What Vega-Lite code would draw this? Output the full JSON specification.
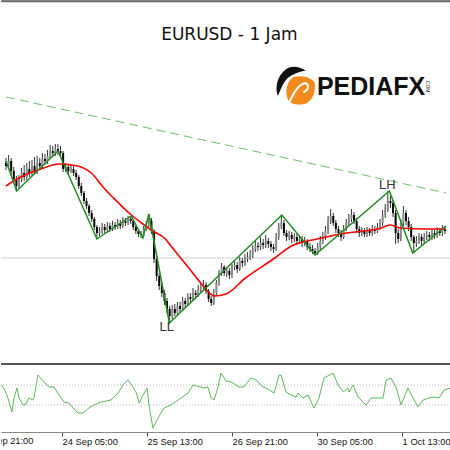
{
"$schema":"https://vega.github.io/schema/vega-lite/v6.json",
"padding":0,
"background":"white",
"spacing":0,
"config":{"view":{"stroke":null}},
"datasets":{
"candles":[
{"t":0,"o":1.1238,"h":1.1243,"l":1.1231,"c":1.1235},
{"t":1,"o":1.1235,"h":1.1246,"l":1.1232,"c":1.1240},
{"t":2,"o":1.1240,"h":1.1243,"l":1.1226,"c":1.1230},
{"t":3,"o":1.1230,"h":1.1234,"l":1.1219,"c":1.1222},
{"t":4,"o":1.1222,"h":1.1225,"l":1.1210,"c":1.1215},
{"t":5,"o":1.1215,"h":1.1226,"l":1.1213,"c":1.1222},
{"t":6,"o":1.1222,"h":1.1233,"l":1.1219,"c":1.1228},
{"t":7,"o":1.1228,"h":1.1236,"l":1.1220,"c":1.1224},
{"t":8,"o":1.1224,"h":1.1238,"l":1.1221,"c":1.1232},
{"t":9,"o":1.1232,"h":1.1240,"l":1.1224,"c":1.1228},
{"t":10,"o":1.1228,"h":1.1241,"l":1.1225,"c":1.1235},
{"t":11,"o":1.1235,"h":1.1244,"l":1.1226,"c":1.1230},
{"t":12,"o":1.1230,"h":1.1245,"l":1.1227,"c":1.1238},
{"t":13,"o":1.1238,"h":1.1243,"l":1.1231,"c":1.1235},
{"t":14,"o":1.1235,"h":1.1248,"l":1.1232,"c":1.1242},
{"t":15,"o":1.1242,"h":1.1247,"l":1.1236,"c":1.1240},
{"t":16,"o":1.1240,"h":1.1251,"l":1.1237,"c":1.1245},
{"t":17,"o":1.1245,"h":1.1256,"l":1.1242,"c":1.1250},
{"t":18,"o":1.1250,"h":1.1255,"l":1.1244,"c":1.1248},
{"t":19,"o":1.1248,"h":1.1257,"l":1.1245,"c":1.1252},
{"t":20,"o":1.1252,"h":1.1257,"l":1.1246,"c":1.1250},
{"t":21,"o":1.1250,"h":1.1255,"l":1.1244,"c":1.1248},
{"t":22,"o":1.1248,"h":1.1250,"l":1.1229,"c":1.1232},
{"t":23,"o":1.1232,"h":1.1238,"l":1.1229,"c":1.1234},
{"t":24,"o":1.1234,"h":1.1237,"l":1.1227,"c":1.1230},
{"t":25,"o":1.1230,"h":1.1236,"l":1.1228,"c":1.1232},
{"t":26,"o":1.1232,"h":1.1235,"l":1.1225,"c":1.1228},
{"t":27,"o":1.1228,"h":1.1231,"l":1.1221,"c":1.1224},
{"t":28,"o":1.1224,"h":1.1226,"l":1.1212,"c":1.1215},
{"t":29,"o":1.1215,"h":1.1218,"l":1.1205,"c":1.1208},
{"t":30,"o":1.1208,"h":1.1210,"l":1.1197,"c":1.1200},
{"t":31,"o":1.1200,"h":1.1203,"l":1.1192,"c":1.1195},
{"t":32,"o":1.1195,"h":1.1197,"l":1.1185,"c":1.1188},
{"t":33,"o":1.1188,"h":1.1191,"l":1.1179,"c":1.1182},
{"t":34,"o":1.1182,"h":1.1184,"l":1.1171,"c":1.1174},
{"t":35,"o":1.1174,"h":1.1176,"l":1.1162,"c":1.1168},
{"t":36,"o":1.1168,"h":1.1174,"l":1.1165,"c":1.1170},
{"t":37,"o":1.1170,"h":1.1178,"l":1.1167,"c":1.1174},
{"t":38,"o":1.1174,"h":1.1177,"l":1.1168,"c":1.1171},
{"t":39,"o":1.1171,"h":1.1179,"l":1.1168,"c":1.1175},
{"t":40,"o":1.1175,"h":1.1178,"l":1.1169,"c":1.1172},
{"t":41,"o":1.1172,"h":1.1180,"l":1.1170,"c":1.1176},
{"t":42,"o":1.1176,"h":1.1179,"l":1.1171,"c":1.1174},
{"t":43,"o":1.1174,"h":1.1182,"l":1.1172,"c":1.1178},
{"t":44,"o":1.1178,"h":1.1181,"l":1.1172,"c":1.1175},
{"t":45,"o":1.1175,"h":1.1184,"l":1.1173,"c":1.1180},
{"t":46,"o":1.1180,"h":1.1183,"l":1.1175,"c":1.1178},
{"t":47,"o":1.1178,"h":1.1185,"l":1.1176,"c":1.1182},
{"t":48,"o":1.1182,"h":1.1185,"l":1.1177,"c":1.1180},
{"t":49,"o":1.1180,"h":1.1182,"l":1.1171,"c":1.1174},
{"t":50,"o":1.1174,"h":1.1176,"l":1.1167,"c":1.1170},
{"t":51,"o":1.1170,"h":1.1172,"l":1.1164,"c":1.1167},
{"t":52,"o":1.1167,"h":1.1170,"l":1.1163,"c":1.1166},
{"t":53,"o":1.1166,"h":1.1175,"l":1.1164,"c":1.1172},
{"t":54,"o":1.1172,"h":1.1180,"l":1.1170,"c":1.1176},
{"t":55,"o":1.1176,"h":1.1187,"l":1.1174,"c":1.1180},
{"t":56,"o":1.1180,"h":1.1183,"l":1.1167,"c":1.1170},
{"t":57,"o":1.1170,"h":1.1172,"l":1.1138,"c":1.1142},
{"t":58,"o":1.1142,"h":1.1145,"l":1.1120,"c":1.1125},
{"t":59,"o":1.1125,"h":1.1128,"l":1.1111,"c":1.1115},
{"t":60,"o":1.1115,"h":1.1118,"l":1.1104,"c":1.1108},
{"t":61,"o":1.1108,"h":1.1111,"l":1.1096,"c":1.1100},
{"t":62,"o":1.1100,"h":1.1103,"l":1.1088,"c":1.1092},
{"t":63,"o":1.1092,"h":1.1095,"l":1.1078,"c":1.1085},
{"t":64,"o":1.1085,"h":1.1096,"l":1.1082,"c":1.1092},
{"t":65,"o":1.1092,"h":1.1097,"l":1.1085,"c":1.1088},
{"t":66,"o":1.1088,"h":1.1099,"l":1.1086,"c":1.1095},
{"t":67,"o":1.1095,"h":1.1099,"l":1.1089,"c":1.1092},
{"t":68,"o":1.1092,"h":1.1104,"l":1.1090,"c":1.1100},
{"t":69,"o":1.1100,"h":1.1103,"l":1.1093,"c":1.1097},
{"t":70,"o":1.1097,"h":1.1108,"l":1.1095,"c":1.1104},
{"t":71,"o":1.1104,"h":1.1108,"l":1.1099,"c":1.1102},
{"t":72,"o":1.1102,"h":1.1113,"l":1.1100,"c":1.1108},
{"t":73,"o":1.1108,"h":1.1111,"l":1.1102,"c":1.1106},
{"t":74,"o":1.1106,"h":1.1116,"l":1.1104,"c":1.1112},
{"t":75,"o":1.1112,"h":1.1118,"l":1.1109,"c":1.1114},
{"t":76,"o":1.1114,"h":1.1121,"l":1.1111,"c":1.1116},
{"t":77,"o":1.1116,"h":1.1119,"l":1.1107,"c":1.1110},
{"t":78,"o":1.1110,"h":1.1112,"l":1.1099,"c":1.1102},
{"t":79,"o":1.1102,"h":1.1105,"l":1.1095,"c":1.1098},
{"t":80,"o":1.1098,"h":1.1112,"l":1.1096,"c":1.1108},
{"t":81,"o":1.1108,"h":1.1121,"l":1.1105,"c":1.1118},
{"t":82,"o":1.1118,"h":1.1131,"l":1.1115,"c":1.1128},
{"t":83,"o":1.1128,"h":1.1138,"l":1.1125,"c":1.1134},
{"t":84,"o":1.1134,"h":1.1136,"l":1.1125,"c":1.1128},
{"t":85,"o":1.1128,"h":1.1134,"l":1.1124,"c":1.1130},
{"t":86,"o":1.1130,"h":1.1133,"l":1.1122,"c":1.1126},
{"t":87,"o":1.1126,"h":1.1137,"l":1.1123,"c":1.1134},
{"t":88,"o":1.1134,"h":1.1140,"l":1.1131,"c":1.1136},
{"t":89,"o":1.1136,"h":1.1139,"l":1.1128,"c":1.1132},
{"t":90,"o":1.1132,"h":1.1144,"l":1.1130,"c":1.1140},
{"t":91,"o":1.1140,"h":1.1143,"l":1.1134,"c":1.1138},
{"t":92,"o":1.1138,"h":1.1147,"l":1.1135,"c":1.1142},
{"t":93,"o":1.1142,"h":1.1149,"l":1.1139,"c":1.1144},
{"t":94,"o":1.1144,"h":1.1151,"l":1.1141,"c":1.1146},
{"t":95,"o":1.1146,"h":1.1156,"l":1.1143,"c":1.1152},
{"t":96,"o":1.1152,"h":1.1160,"l":1.1149,"c":1.1155},
{"t":97,"o":1.1155,"h":1.1159,"l":1.1150,"c":1.1154},
{"t":98,"o":1.1154,"h":1.1164,"l":1.1151,"c":1.1158},
{"t":99,"o":1.1158,"h":1.1162,"l":1.1152,"c":1.1156},
{"t":100,"o":1.1156,"h":1.1166,"l":1.1153,"c":1.1160},
{"t":101,"o":1.1160,"h":1.1163,"l":1.1153,"c":1.1157},
{"t":102,"o":1.1157,"h":1.1160,"l":1.1150,"c":1.1154},
{"t":103,"o":1.1154,"h":1.1157,"l":1.1148,"c":1.1152},
{"t":104,"o":1.1152,"h":1.1168,"l":1.1150,"c":1.1164},
{"t":105,"o":1.1164,"h":1.1178,"l":1.1161,"c":1.1174},
{"t":106,"o":1.1174,"h":1.1186,"l":1.1172,"c":1.1178},
{"t":107,"o":1.1178,"h":1.1181,"l":1.1165,"c":1.1168},
{"t":108,"o":1.1168,"h":1.1171,"l":1.1160,"c":1.1164},
{"t":109,"o":1.1164,"h":1.1170,"l":1.1161,"c":1.1166},
{"t":110,"o":1.1166,"h":1.1169,"l":1.1158,"c":1.1162},
{"t":111,"o":1.1162,"h":1.1168,"l":1.1159,"c":1.1164},
{"t":112,"o":1.1164,"h":1.1167,"l":1.1156,"c":1.1160},
{"t":113,"o":1.1160,"h":1.1166,"l":1.1157,"c":1.1162},
{"t":114,"o":1.1162,"h":1.1165,"l":1.1154,"c":1.1158},
{"t":115,"o":1.1158,"h":1.1164,"l":1.1155,"c":1.1160},
{"t":116,"o":1.1160,"h":1.1162,"l":1.1151,"c":1.1154},
{"t":117,"o":1.1154,"h":1.1158,"l":1.1149,"c":1.1152},
{"t":118,"o":1.1152,"h":1.1156,"l":1.1147,"c":1.1150},
{"t":119,"o":1.1150,"h":1.1153,"l":1.1146,"c":1.1148},
{"t":120,"o":1.1148,"h":1.1158,"l":1.1146,"c":1.1154},
{"t":121,"o":1.1154,"h":1.1165,"l":1.1151,"c":1.1160},
{"t":122,"o":1.1160,"h":1.1169,"l":1.1157,"c":1.1164},
{"t":123,"o":1.1164,"h":1.1175,"l":1.1161,"c":1.1170},
{"t":124,"o":1.1170,"h":1.1185,"l":1.1167,"c":1.1180},
{"t":125,"o":1.1180,"h":1.1192,"l":1.1177,"c":1.1185},
{"t":126,"o":1.1185,"h":1.1188,"l":1.1175,"c":1.1178},
{"t":127,"o":1.1178,"h":1.1181,"l":1.1168,"c":1.1172},
{"t":128,"o":1.1172,"h":1.1175,"l":1.1164,"c":1.1168},
{"t":129,"o":1.1168,"h":1.1171,"l":1.1160,"c":1.1164},
{"t":130,"o":1.1164,"h":1.1176,"l":1.1162,"c":1.1172},
{"t":131,"o":1.1172,"h":1.1182,"l":1.1170,"c":1.1178},
{"t":132,"o":1.1178,"h":1.1187,"l":1.1175,"c":1.1182},
{"t":133,"o":1.1182,"h":1.1192,"l":1.1179,"c":1.1186},
{"t":134,"o":1.1186,"h":1.1189,"l":1.1177,"c":1.1180},
{"t":135,"o":1.1180,"h":1.1183,"l":1.1168,"c":1.1172},
{"t":136,"o":1.1172,"h":1.1175,"l":1.1164,"c":1.1168},
{"t":137,"o":1.1168,"h":1.1174,"l":1.1165,"c":1.1170},
{"t":138,"o":1.1170,"h":1.1173,"l":1.1164,"c":1.1167},
{"t":139,"o":1.1167,"h":1.1174,"l":1.1164,"c":1.1170},
{"t":140,"o":1.1170,"h":1.1173,"l":1.1165,"c":1.1168},
{"t":141,"o":1.1168,"h":1.1176,"l":1.1165,"c":1.1172},
{"t":142,"o":1.1172,"h":1.1175,"l":1.1167,"c":1.1170},
{"t":143,"o":1.1170,"h":1.1178,"l":1.1168,"c":1.1174},
{"t":144,"o":1.1174,"h":1.1182,"l":1.1171,"c":1.1178},
{"t":145,"o":1.1178,"h":1.1191,"l":1.1175,"c":1.1186},
{"t":146,"o":1.1186,"h":1.1197,"l":1.1183,"c":1.1192},
{"t":147,"o":1.1192,"h":1.1210,"l":1.1189,"c":1.1200},
{"t":148,"o":1.1200,"h":1.1205,"l":1.1193,"c":1.1198},
{"t":149,"o":1.1198,"h":1.1201,"l":1.1184,"c":1.1188},
{"t":150,"o":1.1188,"h":1.1191,"l":1.1157,"c":1.1168},
{"t":151,"o":1.1168,"h":1.1172,"l":1.1158,"c":1.1162},
{"t":152,"o":1.1162,"h":1.1182,"l":1.1160,"c":1.1178},
{"t":153,"o":1.1178,"h":1.1195,"l":1.1175,"c":1.1188},
{"t":154,"o":1.1188,"h":1.1191,"l":1.1176,"c":1.1180},
{"t":155,"o":1.1180,"h":1.1184,"l":1.1170,"c":1.1174},
{"t":156,"o":1.1174,"h":1.1177,"l":1.1160,"c":1.1164},
{"t":157,"o":1.1164,"h":1.1166,"l":1.1148,"c":1.1158},
{"t":158,"o":1.1158,"h":1.1165,"l":1.1154,"c":1.1160},
{"t":159,"o":1.1160,"h":1.1168,"l":1.1157,"c":1.1164},
{"t":160,"o":1.1164,"h":1.1167,"l":1.1156,"c":1.1160},
{"t":161,"o":1.1160,"h":1.1168,"l":1.1157,"c":1.1164},
{"t":162,"o":1.1164,"h":1.1170,"l":1.1161,"c":1.1166},
{"t":163,"o":1.1166,"h":1.1169,"l":1.1160,"c":1.1164},
{"t":164,"o":1.1164,"h":1.1172,"l":1.1161,"c":1.1168},
{"t":165,"o":1.1168,"h":1.1171,"l":1.1162,"c":1.1166},
{"t":166,"o":1.1166,"h":1.1174,"l":1.1163,"c":1.1170},
{"t":167,"o":1.1170,"h":1.1173,"l":1.1165,"c":1.1168},
{"t":168,"o":1.1168,"h":1.1176,"l":1.1165,"c":1.1172},
{"t":169,"o":1.1172,"h":1.1175,"l":1.1167,"c":1.1170}
],
"ma":[
{"t":0,"p":1.1215},{"t":4.9,"p":1.1223},{"t":12.4,"p":1.1231},{"t":20.7,"p":1.1237},{"t":27.5,"p":1.1235},{"t":32.8,"p":1.1228},{"t":37.7,"p":1.1213},{"t":41.4,"p":1.1203},{"t":47.8,"p":1.1187},{"t":52.7,"p":1.1177},{"t":56.5,"p":1.1170},{"t":61.4,"p":1.1162},{"t":62.9,"p":1.1157},{"t":70.4,"p":1.1133},{"t":75.3,"p":1.1117},{"t":80.2,"p":1.1105},{"t":84.7,"p":1.1107},{"t":92.2,"p":1.1123},{"t":103.5,"p":1.1143},{"t":109.9,"p":1.1155},{"t":119.7,"p":1.1162},{"t":128.8,"p":1.1167},{"t":137.4,"p":1.1170},{"t":143.1,"p":1.1172},{"t":148.0,"p":1.1176},{"t":151.7,"p":1.1173},{"t":161.9,"p":1.1172},{"t":169.4,"p":1.1172}
],
"zz":[
{"t":0,"p":1.1240},{"t":4.1,"p":1.1210},{"t":20,"p":1.1250},{"t":35,"p":1.1162},{"t":48.2,"p":1.1185},{"t":52.7,"p":1.1163},{"t":55,"p":1.1187},{"t":62.9,"p":1.1078},{"t":106.2,"p":1.1186},{"t":119,"p":1.1146},{"t":147.6,"p":1.1210},{"t":156.6,"p":1.1148},{"t":169.4,"p":1.1175}
],
"trend":[{"t":0,"p":1.1304},{"t":169.4,"p":1.1208}],
"levels":[{"lv":70},{"lv":30}],
"osc":[
{"t":0,"v":70},{"t":1.1,"v":64},{"t":2.6,"v":44},{"t":4.1,"v":16},{"t":4.9,"v":44},{"t":6.0,"v":64},{"t":6.8,"v":44},{"t":8.3,"v":30},{"t":9.4,"v":32},{"t":10.5,"v":44},{"t":12.0,"v":40},{"t":12.4,"v":44},{"t":13.9,"v":90},{"t":16.2,"v":76},{"t":18.1,"v":66},{"t":20.0,"v":66},{"t":21.8,"v":50},{"t":23.7,"v":36},{"t":25.6,"v":34},{"t":27.1,"v":24},{"t":29.0,"v":14},{"t":30.9,"v":14},{"t":33.1,"v":24},{"t":35.0,"v":30},{"t":37.7,"v":36},{"t":41.4,"v":40},{"t":44.1,"v":54},{"t":45.9,"v":70},{"t":47.8,"v":80},{"t":49.7,"v":66},{"t":50.8,"v":56},{"t":52.0,"v":34},{"t":53.5,"v":50},{"t":55.0,"v":64},{"t":55.7,"v":30},{"t":57.2,"v":-16},{"t":59.1,"v":4},{"t":61.4,"v":24},{"t":64.0,"v":30},{"t":67.8,"v":44},{"t":70.4,"v":54},{"t":72.3,"v":70},{"t":75.3,"v":66},{"t":76.4,"v":64},{"t":77.9,"v":66},{"t":79.1,"v":44},{"t":80.2,"v":40},{"t":81.7,"v":66},{"t":82.8,"v":94},{"t":84.7,"v":78},{"t":86.6,"v":76},{"t":89.6,"v":66},{"t":91.5,"v":66},{"t":94.1,"v":84},{"t":96.0,"v":80},{"t":98.6,"v":66},{"t":99.8,"v":64},{"t":102.8,"v":54},{"t":104.7,"v":90},{"t":105.4,"v":90},{"t":107.3,"v":56},{"t":109.2,"v":50},{"t":111.1,"v":46},{"t":111.8,"v":54},{"t":113.7,"v":44},{"t":115.6,"v":50},{"t":117.8,"v":24},{"t":119.7,"v":44},{"t":121.6,"v":84},{"t":125.0,"v":94},{"t":126.9,"v":70},{"t":128.8,"v":56},{"t":130.6,"v":64},{"t":131.0,"v":56},{"t":132.5,"v":70},{"t":134.4,"v":46},{"t":136.3,"v":36},{"t":137.4,"v":30},{"t":139.3,"v":44},{"t":141.2,"v":44},{"t":143.8,"v":44},{"t":145.0,"v":80},{"t":146.8,"v":84},{"t":148.7,"v":66},{"t":150.6,"v":30},{"t":153.2,"v":64},{"t":155.1,"v":44},{"t":157.0,"v":26},{"t":158.9,"v":40},{"t":161.1,"v":44},{"t":163.0,"v":46},{"t":164.9,"v":44},{"t":166.8,"v":60},{"t":169.4,"v":64}
]
},
"vconcat":[
{
"width":450,"height":363,
"encoding":{
 "x":{"field":"t","type":"quantitative","scale":{"domain":[0,169.4],"nice":false,"zero":false},
   "axis":{"orient":"top","labels":false,"ticks":false,"grid":false,"title":null,"domainColor":"#666666","domainWidth":1.5}}
},
"layer":[
{"data":{"values":[{}]},"mark":{"type":"rule","color":"#d0d0d0","strokeWidth":1},
 "encoding":{"x":null,"y":{"datum":1.1143,"type":"quantitative","scale":{"domain":[1.1037,1.14],"nice":false,"zero":false},"axis":null}}},
{"data":{"values":[{}]},"mark":{"type":"rule","color":"#666666","strokeWidth":1.5},
 "encoding":{"x":null,"y":{"datum":1.14,"type":"quantitative","scale":{"domain":[1.1037,1.14],"nice":false,"zero":false},"axis":null}}},
{"data":{"name":"trend"},"mark":{"type":"line","color":"#6cbf6c","strokeWidth":1,"strokeDash":[9,5],"clip":true},
 "encoding":{"y":{"field":"p","type":"quantitative","scale":{"domain":[1.1037,1.14],"nice":false,"zero":false},"axis":null}}},
{"data":{"name":"candles"},"mark":{"type":"rule","color":"#333333","strokeWidth":1,"clip":true},
 "encoding":{"y":{"field":"l","type":"quantitative","scale":{"domain":[1.1037,1.14],"nice":false,"zero":false},"axis":null},
 "y2":{"field":"h"}}},
{"data":{"name":"candles"},"mark":{"type":"bar","width":2,"clip":true},
 "encoding":{"y":{"field":"o","type":"quantitative","scale":{"domain":[1.1037,1.14],"nice":false,"zero":false},"axis":null},
 "y2":{"field":"c"},
 "color":{"condition":{"test":"datum.c < datum.o","value":"#000000"},"value":"#8a8a8a"}}},
{"data":{"name":"ma"},"mark":{"type":"line","color":"#ff0000","strokeWidth":1.6,"interpolate":"monotone","clip":true},
 "encoding":{"y":{"field":"p","type":"quantitative","scale":{"domain":[1.1037,1.14],"nice":false,"zero":false},"axis":null}}},
{"data":{"name":"zz"},"mark":{"type":"line","color":"#1f8b1f","strokeWidth":1.5,"clip":true},
 "encoding":{"y":{"field":"p","type":"quantitative","scale":{"domain":[1.1037,1.14],"nice":false,"zero":false},"axis":null}}},
{"data":{"values":[{"lab":"LH","t":146.8,"p":1.1216},{"lab":"LL","t":61.9,"p":1.1074}]},"mark":{"type":"text","font":"Liberation Sans","fontSize":13,"color":"#333333","align":"center","baseline":"middle"},
 "encoding":{"text":{"field":"lab"},
 "y":{"field":"p","type":"quantitative","scale":{"domain":[1.1037,1.14],"nice":false,"zero":false},"axis":null}}},
{"data":{"values":[{"lab":"EURUSD - 1 Jam","t":86.0,"p":1.1361}]},"mark":{"type":"text","font":"Comic Sans MS, DejaVu Sans","fontSize":17,"color":"#111111","align":"center","baseline":"alphabetic"},
 "encoding":{"text":{"field":"lab"},
 "y":{"field":"p","type":"quantitative","scale":{"domain":[1.1037,1.14],"nice":false,"zero":false},"axis":null}}},
{"data":{"values":[{"t":113.3,"p":1.1311}]},"mark":{"type":"point","filled":true,"opacity":1,"color":"#f28a1e","size":900,
  "shape":"M-0.5,-0.85 C0,-1 0.7,-0.9 0.95,-0.5 C1.05,0 0.9,0.6 0.4,0.9 C-0.1,1.05 -0.6,1 -0.85,0.6 C-1,0.2 -0.95,-0.5 -0.5,-0.85Z"},
 "encoding":{"y":{"field":"p","type":"quantitative","scale":{"domain":[1.1037,1.14],"nice":false,"zero":false},"axis":null}}},
{"data":{"values":[{"t":113.3,"p":1.1311}]},"mark":{"type":"point","filled":false,"opacity":1,"stroke":"#ffffff","strokeWidth":2,"size":900,
  "shape":"M-0.7,0.75 C-0.4,0.1 -0.1,-0.4 0.3,-0.45 C0.6,-0.45 0.6,0 0.2,0.15"},
 "encoding":{"y":{"field":"p","type":"quantitative","scale":{"domain":[1.1037,1.14],"nice":false,"zero":false},"axis":null}}},
{"data":{"values":[{"t":109.6,"p":1.1320}]},"mark":{"type":"point","filled":true,"opacity":1,"color":"#111111","size":900,
  "shape":"M-0.85,1 C-1.05,0.5 -0.95,-0.3 -0.3,-0.8 C0.1,-1.05 0.6,-0.95 1,-0.7 C0.5,-0.6 0.1,-0.45 -0.2,-0.2 C-0.5,0.1 -0.65,0.5 -0.85,1Z"},
 "encoding":{"y":{"field":"p","type":"quantitative","scale":{"domain":[1.1037,1.14],"nice":false,"zero":false},"axis":null}}},
{"data":{"values":[{"lab":"PEDIAFX","t":119.7,"p":1.1306}]},"mark":{"type":"text","font":"Liberation Sans","fontWeight":"bold","fontSize":25,"color":"#111111","align":"left","baseline":"alphabetic"},
 "encoding":{"text":{"field":"lab"},
 "y":{"field":"p","type":"quantitative","scale":{"domain":[1.1037,1.14],"nice":false,"zero":false},"axis":null}}},
{"data":{"values":[{"lab":".COM","t":162.3,"p":1.1315}]},"mark":{"type":"text","font":"Liberation Sans","fontSize":5,"angle":90,"color":"#111111","align":"center","baseline":"middle"},
 "encoding":{"text":{"field":"lab"},
 "y":{"field":"p","type":"quantitative","scale":{"domain":[1.1037,1.14],"nice":false,"zero":false},"axis":null}}},
{"data":{"values":[{}]},"mark":{"type":"rule","color":"#555555","strokeWidth":2},
 "encoding":{"x":null,"y":{"datum":1.1037,"type":"quantitative","scale":{"domain":[1.1037,1.14],"nice":false,"zero":false},"axis":null}}}
]
},
{
"width":450,"height":85,
"encoding":{
 "x":{"field":"t","type":"quantitative","scale":{"domain":[0,169.4],"nice":false,"zero":false},
   "axis":{"orient":"bottom","offset":-18,"values":[23,55,87,119,151],
    "labelExpr":"datum.value==23?'24 Sep 05:00':datum.value==55?'25 Sep 13:00':datum.value==87?'26 Sep 21:00':datum.value==119?'30 Sep 05:00':'1 Oct 13:00'",
    "grid":false,"title":null,"domainColor":"#888888","domainWidth":1,"tickColor":"#444444","tickSize":4,
    "labelFont":"Liberation Sans","labelFontSize":9.3,"labelColor":"#111111","labelAlign":"left","labelBaseline":"top",
    "labelPadding":1,"labelDx":1,"labelOverlap":false,"labelFlush":false,"labelBound":false}}
},
"layer":[
{"data":{"name":"levels"},"mark":{"type":"rule","color":"#b8b8b8","strokeWidth":1,"strokeDash":[1,2]},
 "encoding":{"x":null,"y":{"field":"lv","type":"quantitative","scale":{"domain":[-60,110],"nice":false,"zero":false},"axis":null}}},
{"data":{"name":"osc"},"mark":{"type":"line","color":"#5cb85c","strokeWidth":1,"clip":true},
 "encoding":{"y":{"field":"v","type":"quantitative","scale":{"domain":[-60,110],"nice":false,"zero":false},"axis":null}}},
{"data":{"values":[{"lab":"23 Sep 21:00","t":-9,"v":-34}]},"mark":{"type":"text","font":"Liberation Sans","fontSize":9.3,"color":"#111111","align":"left","baseline":"top","dx":1,"clip":true},
 "encoding":{"text":{"field":"lab"},
 "y":{"field":"v","type":"quantitative","scale":{"domain":[-60,110],"nice":false,"zero":false},"axis":null}}}
]
}
]
}
